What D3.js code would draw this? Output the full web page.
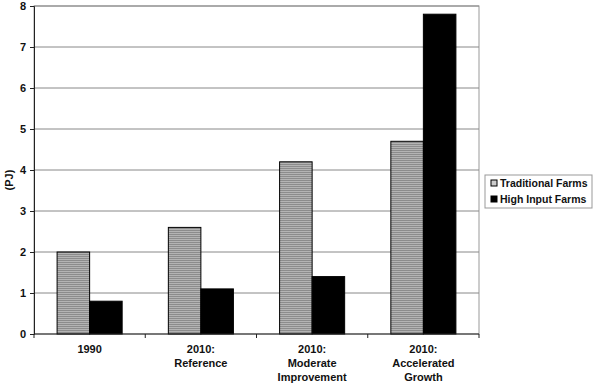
<!DOCTYPE html>
<html><head><meta charset="utf-8">
<script src="https://cdn.jsdelivr.net/npm/d3@7"></script>
<style>body{margin:0;background:#fff}svg{display:block}text{font-family:"Liberation Sans",Arial,sans-serif}</style>
</head><body>
<svg id="c" width="599" height="383"></svg>
<script>
const categories = [["1990"],["2010:","Reference"],["2010:","Moderate","Improvement"],["2010:","Accelerated","Growth"]];
const seriesNames = ["Traditional Farms","High Input Farms"];
const traditional = [2.0, 2.6, 4.2, 4.7];
const highInput = [0.8, 1.1, 1.4, 7.8];
const yTicks = [0,1,2,3,4,5,6,7,8];

const svg = d3.select("#c");
const m = {l:34, t:6, r:479, b:334};
const defs = svg.append("defs");
const pat = defs.append("pattern").attr("id","stripe").attr("patternUnits","userSpaceOnUse").attr("width",4).attr("height",2);
pat.append("rect").attr("width",4).attr("height",2).attr("fill","#b4b4b4");
pat.append("rect").attr("width",4).attr("height",1).attr("fill","#8c8c8c");

const x0 = d3.scaleBand().domain(d3.range(categories.length)).range([m.l,m.r]).paddingInner(0).paddingOuter(0);
const x1 = d3.scaleBand().domain([0,1]).range([0,x0.bandwidth()]).paddingOuter(0.71).paddingInner(0);
const y = d3.scaleLinear().domain([0,8]).range([m.b,m.t]);

// plot border
svg.append("rect").attr("x",m.l).attr("y",m.t).attr("width",m.r-m.l).attr("height",m.b-m.t).attr("fill","none").attr("stroke","#999").attr("stroke-width",1);
// gridlines
svg.append("g").selectAll("line").data(yTicks.filter(d=>d>0)).join("line")
  .attr("x1",m.l).attr("x2",m.r).attr("y1",d=>y(d)).attr("y2",d=>y(d)).attr("stroke","#888").attr("stroke-width",1);

// bars
const g = svg.append("g");
categories.forEach((c,i)=>{
  [traditional[i], highInput[i]].forEach((v,j)=>{
    g.append("rect").attr("x",x0(i)+x1(j)).attr("y",y(v)).attr("width",x1.bandwidth()).attr("height",y(0)-y(v))
     .attr("fill", j===0?"url(#stripe)":"#000").attr("stroke","#000").attr("stroke-width",1);
  });
});

// y axis
const ya = svg.append("g").attr("transform",`translate(${m.l},0)`).call(d3.axisLeft(y).tickValues(yTicks).tickSize(4).tickPadding(4));
ya.select(".domain").attr("stroke","#222");
ya.selectAll(".tick line").attr("stroke","#222");
ya.selectAll("text").attr("font-size",11).attr("font-weight","bold").attr("fill","#111");

// x axis
svg.append("line").attr("x1",m.l).attr("x2",m.r).attr("y1",m.b).attr("y2",m.b).attr("stroke","#222");
svg.append("g").selectAll("line").data(d3.range(categories.length+1)).join("line")
  .attr("x1",d=>m.l+d*x0.bandwidth()).attr("x2",d=>m.l+d*x0.bandwidth()).attr("y1",m.b).attr("y2",m.b+4).attr("stroke","#222");
const xl = svg.append("g");
categories.forEach((c,i)=>{
  const t = xl.append("text").attr("x",x0(i)+x0.bandwidth()/2).attr("y",353).attr("text-anchor","middle")
    .attr("font-size",11).attr("font-weight","bold").attr("fill","#111");
  c.forEach((s,k)=>t.append("tspan").attr("x",x0(i)+x0.bandwidth()/2).attr("dy",k===0?0:14).text(s));
});

// y label
svg.append("text").attr("transform","translate(13,180) rotate(-90)").attr("text-anchor","middle")
  .attr("font-size",11).attr("font-weight","bold").attr("fill","#111").text("(PJ)");

// legend
const lg = svg.append("g");
lg.append("rect").attr("x",485).attr("y",175).attr("width",107).attr("height",33).attr("fill","#fff").attr("stroke","#999");
seriesNames.forEach((s,i)=>{
  lg.append("rect").attr("x",491).attr("y",180+i*16).attr("width",6).attr("height",6)
    .attr("fill",i===0?"#ccc":"#000").attr("stroke","#000");
  lg.append("text").attr("x",500).attr("y",187+i*16).attr("font-size",10.5).attr("font-weight","bold").attr("fill","#111").text(s);
});
</script>
</body></html>
